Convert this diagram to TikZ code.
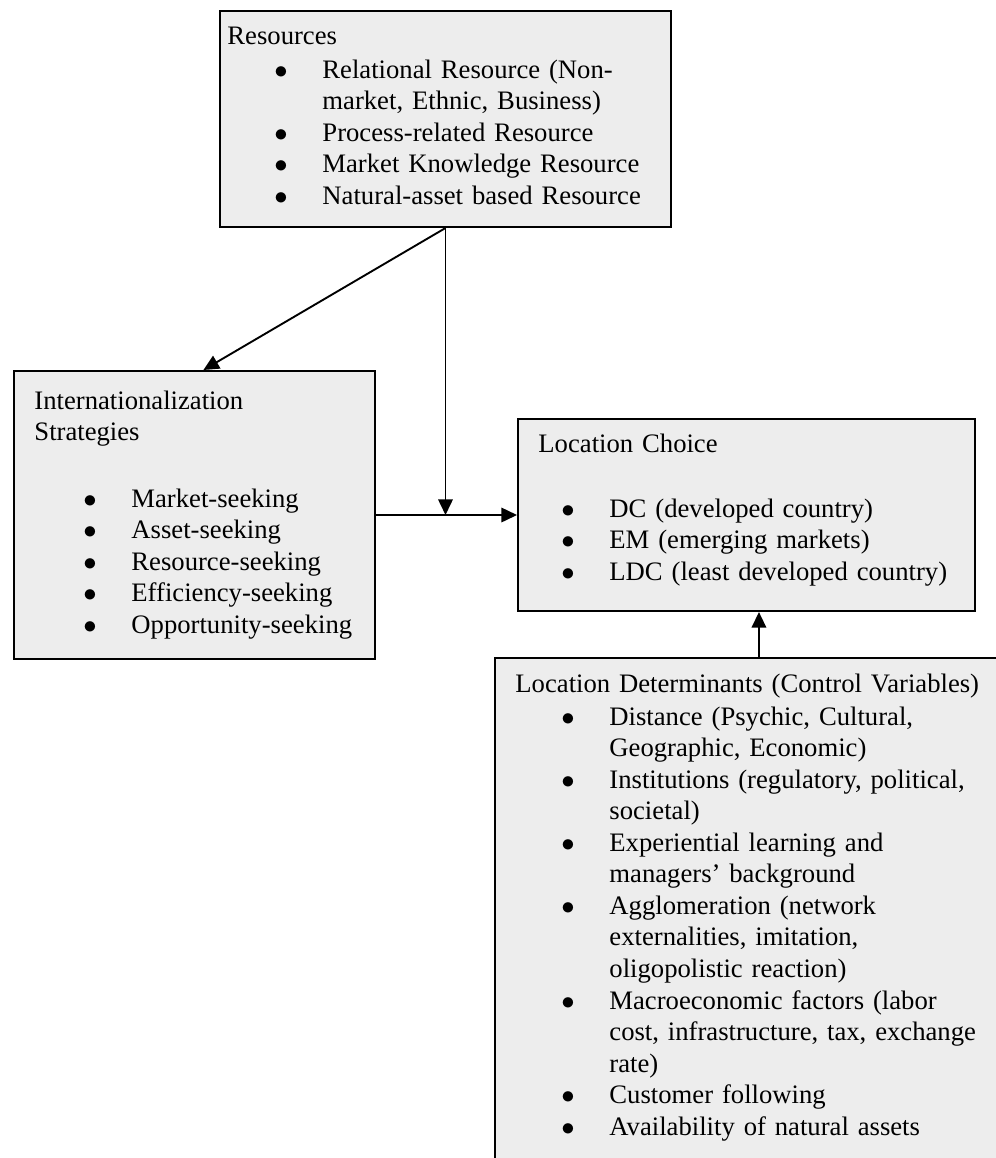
\documentclass[tikz,border=0pt]{standalone}
\usepackage{fontspec}
\setmainfont{Liberation Serif}
\usetikzlibrary{arrows.meta}

% bullet item and continuation line
\newcommand{\itm}[1]{\makebox[20.7pt][l]{\hspace{-0.9pt}$\bullet$}#1}
\newcommand{\cnt}[1]{\hspace*{20.7pt}#1}

\begin{document}
\begin{tikzpicture}[x=0.45pt, y=-0.45pt,
    box/.style={draw, line width=0.9pt, fill=black!7, anchor=north west, inner sep=0pt},
    txt/.style={anchor=base west, inner sep=0pt, align=left, text width=#1,
      font=\fontsize{12}{14.2}\selectfont},
    txt/.default=240pt,
    arr/.style={-{Triangle[length=7pt,width=6.5pt]}, line width=0.85pt}]

    \useasboundingbox (0,0) rectangle (996,1158);
    \clip (0,0) rectangle (996,1158);

    % Resources
    \node[box, minimum width=202.95pt, minimum height=97.2pt] (res) at (219,10) {};
    \node[txt] (res-head) at (227,45) {Resources};
    \node[txt] (res-list) at (276,78) {\itm{Relational Resource (Non-}\\
      \cnt{market, Ethnic, Business)}\\
      \itm{Process-related Resource}\\
      \itm{Market Knowledge Resource}\\
      \itm{Natural-asset based Resource}};

    % Strategies
    \node[box, minimum width=162.45pt, minimum height=129.6pt] (strat) at (13,370) {};
    \node[txt] (strat-head) at (34,409) {Internationalization\\ Strategies};
    \node[txt] (strat-list) at (85,507) {\itm{Market-seeking}\\
      \itm{Asset-seeking}\\
      \itm{Resource-seeking}\\
      \itm{Efficiency-seeking}\\
      \itm{Opportunity-seeking}};

    % Location choice
    \node[box, minimum width=205.65pt, minimum height=86.4pt] (loc) at (517,418) {};
    \node[txt] (loc-head) at (538,452) {Location Choice};
    \node[txt] (loc-list) at (563,517) {\itm{DC (developed country)}\\
      \itm{EM (emerging markets)}\\
      \itm{LDC (least developed country)}};

    % Determinants (runs off the page)
    \node[box, minimum width=280pt, minimum height=260pt] (det) at (494,657) {};
    \node[txt] (det-head) at (515,692) {Location Determinants (Control Variables)};
    \node[txt] (det-list) at (563,725) {\itm{Distance (Psychic, Cultural,}\\
      \cnt{Geographic, Economic)}\\
      \itm{Institutions (regulatory, political,}\\
      \cnt{societal)}\\
      \itm{Experiential learning and}\\
      \cnt{managers’ background}\\
      \itm{Agglomeration (network}\\
      \cnt{externalities, imitation,}\\
      \cnt{oligopolistic reaction)}\\
      \itm{Macroeconomic factors (labor}\\
      \cnt{cost, infrastructure, tax, exchange}\\
      \cnt{rate)}\\
      \itm{Customer following}\\
      \itm{Availability of natural assets}};

    % Arrows
    \draw[arr] (res.south) -- ([xshift=4pt]strat.north);
    \draw[arr] (res.south) -- (res.south |- strat.east);
    \draw[arr] (strat.east) -- (loc.west);
    \draw[arr] ([xshift=5.6pt]loc.south |- det.north) -- ([xshift=5.6pt]loc.south);
\end{tikzpicture}
\end{document}
